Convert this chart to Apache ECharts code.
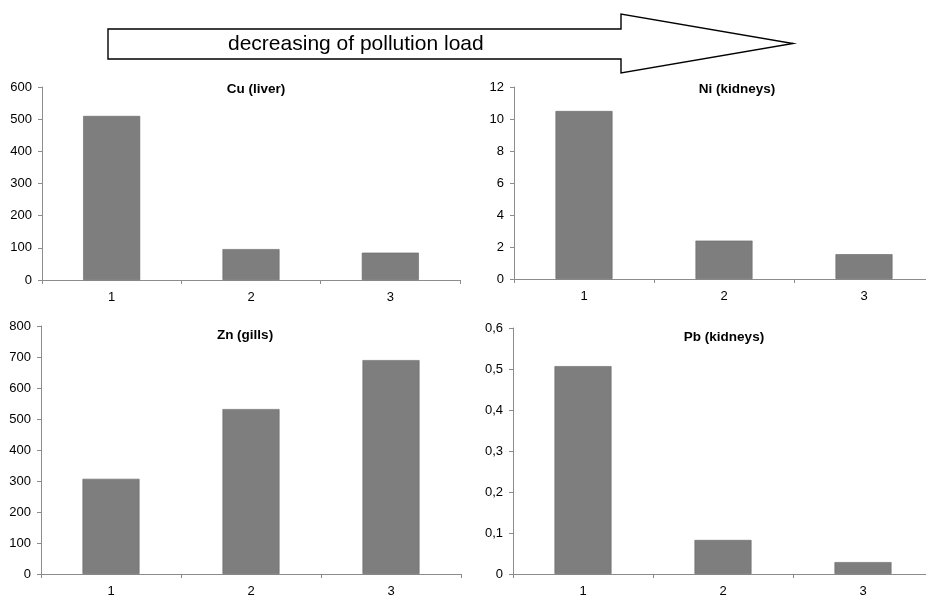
<!DOCTYPE html>
<html>
<head>
<meta charset="utf-8">
<script src="https://cdn.jsdelivr.net/npm/echarts@6/dist/echarts.min.js"></script>
<style>
  html, body { margin: 0; padding: 0; background: #fff; }
  #chart { width: 926px; height: 596px; }
</style>
</head>
<body>
<div id="chart"></div>
<script>
// sites, ordered by decreasing pollution load
const categories = ['1', '2', '3']

const cuLiver = [510, 96, 85]
const niKidneys = [10.5, 2.4, 1.55]
const znGills = [307, 532, 690]
const pbKidneys = [0.507, 0.083, 0.029]

const panelTitles = ['Cu (liver)', 'Ni (kidneys)', 'Zn (gills)', 'Pb (kidneys)']
const yMax = [600, 12, 800, 0.6]
const yStep = [100, 2, 100, 0.1]

const arrowText = 'decreasing of pollution load'

const font = '"Liberation Sans", Arial, sans-serif'
const axisGray = '#8c8c8c'
const barGray = '#7e7e7e'

const grids = [
    { left: 42, top: 87, width: 418, height: 193 },
    { left: 514, top: 87, width: 420, height: 192 },
    { left: 41, top: 326, width: 420, height: 248 },
    { left: 513, top: 328, width: 420, height: 246 }
]

const titlePos = [
    { left: 251, top: 77 },
    { left: 732, top: 77 },
    { left: 240, top: 323 },
    { left: 719, top: 325 }
]

const seriesData = [cuLiver, niKidneys, znGills, pbKidneys]

const commaFmt = v => (v === 0 ? '0' : String(+v.toFixed(1)).replace('.', ','))

const option = {
    backgroundColor: '#fff',
    animation: false,
    textStyle: { fontFamily: font },
    title: panelTitles.map((t, i) => ({
        text: t,
        left: titlePos[i].left,
        top: titlePos[i].top,
        textAlign: 'center',
        textStyle: { fontFamily: font, fontSize: 13.5, fontWeight: 'bold', color: '#000' }
    })),
    grid: grids.map(g => ({ ...g, containLabel: false, outerBoundsMode: 'none' })),
    xAxis: grids.map((g, i) => ({
        type: 'category',
        gridIndex: i,
        data: categories,
        boundaryGap: true,
        axisLine: { lineStyle: { color: axisGray, width: 1 } },
        axisTick: { show: true, alignWithLabel: false, length: 4, lineStyle: { color: axisGray } },
        axisLabel: { color: '#000', fontSize: 13, fontFamily: font, margin: 11 }
    })),
    yAxis: grids.map((g, i) => ({
        type: 'value',
        gridIndex: i,
        min: 0,
        max: yMax[i],
        interval: yStep[i],
        splitLine: { show: false },
        axisLine: { show: true, lineStyle: { color: axisGray, width: 1 } },
        axisTick: { show: true, length: 4, lineStyle: { color: axisGray } },
        axisLabel: {
            color: '#000',
            fontSize: 13,
            fontFamily: font,
            margin: 10,
            formatter: i === 3 ? commaFmt : undefined
        }
    })),
    series: seriesData.map((d, i) => ({
        type: 'bar',
        xAxisIndex: i,
        yAxisIndex: i,
        data: d,
        barWidth: 57,
        itemStyle: { color: barGray, borderColor: '#666', borderWidth: 0.6 }
    })),
    graphic: [
        {
            type: 'polygon',
            shape: {
                points: [[108, 29], [621, 29], [621, 14], [793, 43.5], [621, 73], [621, 59], [108, 59]]
            },
            style: { fill: '#fff', stroke: '#000', lineWidth: 1.4 }
        },
        {
            type: 'text',
            left: 228,
            top: 34,
            style: { text: arrowText, fill: '#000', font: '21px ' + font }
        }
    ]
}

const myChart = echarts.init(document.getElementById('chart'))
myChart.setOption(option)
</script>
</body>
</html>
